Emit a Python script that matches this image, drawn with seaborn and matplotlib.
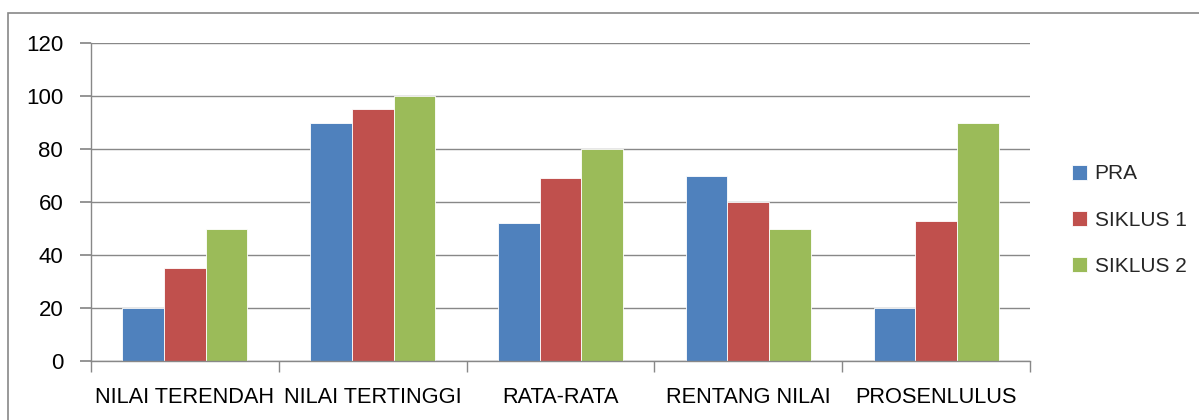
import pandas as pd
import seaborn as sns
import matplotlib.pyplot as plt
from matplotlib.patches import Rectangle
from matplotlib.ticker import FixedLocator

# data
categories = ['NILAI TERENDAH', 'NILAI TERTINGGI', 'RATA-RATA', 'RENTANG NILAI', 'PROSENLULUS']
series = ['PRA', 'SIKLUS 1', 'SIKLUS 2']
pra = [20, 90, 52, 70, 20]
siklus1 = [35, 95, 69, 60, 53]
siklus2 = [50, 100, 80, 50, 90]
colors = ['#4F81BD', '#C0504D', '#9BBB59']

df = pd.DataFrame({
    'kategori': categories * 3,
    'seri': [s for s in series for _ in categories],
    'nilai': pra + siklus1 + siklus2,
})

sns.set_theme(style='white')
plt.rcParams['font.family'] = ['Liberation Sans', 'DejaVu Sans']

fig = plt.figure(figsize=(11.99, 4.2), dpi=100)
ax = fig.add_axes([91 / 1199, 1 - 361 / 420, (1030 - 91) / 1199, (361 - 43) / 420])

sns.barplot(data=df, x='kategori', y='nilai', hue='seri', palette=colors,
            width=0.665, gap=0, ax=ax, edgecolor='white', linewidth=0.6,
            saturation=1, legend=True)

ax.set_ylim(0, 120)
ax.set_xlim(-0.5, len(categories) - 0.5)
ax.set_yticks(range(0, 121, 20))
ax.set_xlabel('')
ax.set_ylabel('')
ax.yaxis.grid(True, color='#888888', linewidth=1)
ax.set_axisbelow(True)

for s in ['top', 'right']:
    ax.spines[s].set_visible(False)
for s in ['left', 'bottom']:
    ax.spines[s].set_color('#888888')
    ax.spines[s].set_linewidth(1)

ax.tick_params(axis='y', length=8, color='#888888', pad=12, labelsize=16, labelcolor='black', left=True)
ax.tick_params(axis='x', which='major', length=0, pad=19, labelsize=15.7, labelcolor='black')
ax.xaxis.set_minor_locator(FixedLocator([i - 0.5 for i in range(len(categories) + 1)]))
ax.tick_params(axis='x', which='minor', length=8, color='#888888', bottom=True)

handles, labels = ax.get_legend_handles_labels()
ax.get_legend().remove()
fig.legend(handles, labels, loc='center left', bbox_to_anchor=(1053 / 1199, 1 - 220 / 420),
           frameon=False, fontsize=15, handlelength=0.75, handleheight=0.75,
           handletextpad=0.35, labelspacing=1.3)

# outer chart frame
fig.add_artist(Rectangle((8 / 1199, -0.1), 1.2, 0.1 + 1 - 13 / 420, transform=fig.transFigure,
                         fill=False, edgecolor='#888888', linewidth=1.2))

fig.savefig('out.png', dpi=100)
